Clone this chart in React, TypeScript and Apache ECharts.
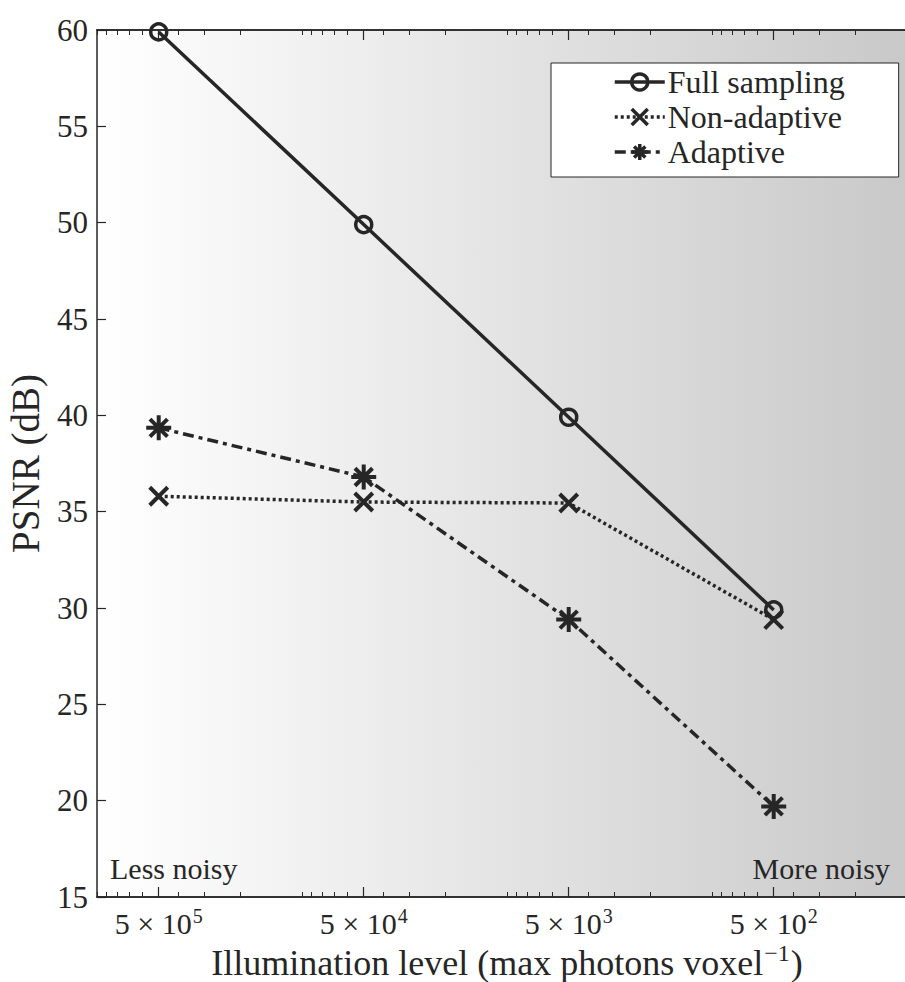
import React, { useEffect, useRef } from "react";
import * as echarts from "echarts";

const illumination = [5e5, 5e4, 5e3, 5e2];
const fullSampling = [59.9, 49.9, 39.9, 29.9];
const nonAdaptive = [35.8, 35.5, 35.45, 29.4];
const adaptive = [39.35, 36.8, 29.4, 19.7];
const majorTicks = [5e5, 5e4, 5e3, 5e2];
const seriesNames = ["Full sampling", "Non-adaptive", "Adaptive"];

const FONT = "Liberation Serif";
const INK = "#262626";

const minorTicks: number[] = [];
for (let k = 2; k <= 5; k++) {
  for (let n = 1; n <= 9; n++) minorTicks.push(n * Math.pow(10, k));
}
minorTicks.push(1e6);

const X_SYMBOL = "path://M0,0L10,10M10,0L0,10";
const STAR_SYMBOL = "path://M5,0L5,10M0,5L10,5M1.5,1.5L8.5,8.5M8.5,1.5L1.5,8.5";

export default function App() {
  const ref = useRef<HTMLDivElement>(null);
  useEffect(() => {
    if (!ref.current) return;
    const chart = echarts.init(ref.current, null, { renderer: "svg" });
    const pairs = (ys: number[]) => illumination.map((x, i) => [x, ys[i]]);
    const baseX = {
      type: "log" as const,
      logBase: 10,
      min: 100,
      max: 1e6,
      inverse: true,
      splitLine: { show: false },
      axisLine: { show: true, lineStyle: { color: INK, width: 1.5 } },
    };
    const supLabel = (v: number) => {
      const e = Math.round(Math.log10(v / 5));
      return `{b|5 × 10}{s|${e}}`;
    };
    chart.setOption({
      animation: false,
      backgroundColor: "#ffffff",
      grid: {
        left: 97,
        top: 30,
        width: 820,
        height: 867,
        outerBoundsMode: "none",
        containLabel: false,
        show: true,
        borderWidth: 0,
        backgroundColor: new echarts.graphic.LinearGradient(0, 0, 1, 0, [
          { offset: 0, color: "#ffffff" },
          { offset: 1, color: "#c8c8c8" },
        ]),
      },
      xAxis: [
        {
          ...baseX,
          position: "bottom",
          axisTick: { show: true, inside: true, length: 5, customValues: minorTicks, lineStyle: { color: INK, width: 1 } },
          axisLabel: { show: false },
        },
        {
          ...baseX,
          position: "bottom",
          axisTick: { show: true, inside: true, length: 10, customValues: majorTicks, lineStyle: { color: INK, width: 1.2 } },
          axisLabel: {
            show: true,
            customValues: majorTicks,
            margin: 9,
            formatter: supLabel,
            rich: {
              b: { fontFamily: FONT, fontSize: 30, color: INK, lineHeight: 32, verticalAlign: "bottom" },
              s: { fontFamily: FONT, fontSize: 20, color: INK, lineHeight: 20, verticalAlign: "top", padding: [0, 0, 0, 1] },
            },
          },
          name: "{n|Illumination level (max photons voxel}{s|−1}{n|)}",
          nameLocation: "middle",
          nameGap: 44,
          nameMoveOverlap: false,
          nameTextStyle: {
            fontFamily: FONT,
            fontSize: 36,
            color: INK,
            rich: {
              n: { fontFamily: FONT, fontSize: 36, color: INK, lineHeight: 40, verticalAlign: "bottom" },
              s: { fontFamily: FONT, fontSize: 24, color: INK, lineHeight: 24, verticalAlign: "top", padding: [0, 1, 0, 1] },
            },
          },
        },
        {
          ...baseX,
          position: "top",
          axisTick: { show: true, inside: true, length: 5, customValues: minorTicks, lineStyle: { color: INK, width: 1 } },
          axisLabel: { show: false },
        },
        {
          ...baseX,
          position: "top",
          axisTick: { show: true, inside: true, length: 10, customValues: majorTicks, lineStyle: { color: INK, width: 1.2 } },
          axisLabel: { show: false },
        },
      ],
      yAxis: {
        type: "value",
        min: 15,
        max: 60,
        interval: 5,
        splitLine: { show: false },
        axisLine: { show: true, lineStyle: { color: INK, width: 1.5 } },
        axisTick: { show: true, inside: true, length: 9, lineStyle: { color: INK, width: 1.2 } },
        axisLabel: { fontFamily: FONT, fontSize: 31, color: INK, margin: 9 },
        name: "PSNR (dB)",
        nameLocation: "middle",
        nameGap: 52,
        nameTextStyle: { fontFamily: FONT, fontSize: 39, color: INK },
      },
      legend: {
        left: 551,
        top: 63,
        orient: "vertical",
        data: seriesNames,
        backgroundColor: "#ffffff",
        borderColor: INK,
        borderWidth: 1,
        borderRadius: 0,
        padding: [3, 54, 9, 62],
        itemGap: 3,
        itemWidth: 50,
        itemHeight: 20,
        lineStyle: { width: 3.5 },
        itemStyle: { borderWidth: 3.5 },
        textStyle: { fontFamily: FONT, fontSize: 32, color: INK, lineHeight: 28, padding: [0, 0, 0, -2] },
      },
      graphic: [
        { type: "text", left: 110, top: 853, style: { text: "Less noisy", font: `30px ${FONT}`, fill: INK } },
        { type: "text", right: 15, top: 853, style: { text: "More noisy", font: `30px ${FONT}`, fill: INK } },
      ],
      series: [
        {
          name: seriesNames[0],
          type: "line",
          xAxisIndex: 1,
          data: pairs(fullSampling),
          symbol: "circle",
          symbolSize: 16,
          lineStyle: { color: INK, width: 3.5, type: "solid" },
          itemStyle: { color: "rgba(0,0,0,0)", borderColor: INK, borderWidth: 3.5 },
          z: 4,
        },
        {
          name: seriesNames[1],
          type: "line",
          xAxisIndex: 1,
          data: pairs(nonAdaptive),
          symbol: X_SYMBOL,
          symbolSize: 18,
          lineStyle: { color: INK, width: 3.5, type: [3, 3] },
          itemStyle: { color: "none", borderColor: INK, borderWidth: 4 },
          z: 3,
        },
        {
          name: seriesNames[2],
          type: "line",
          xAxisIndex: 1,
          data: pairs(adaptive),
          symbol: STAR_SYMBOL,
          symbolSize: 25,
          lineStyle: { color: INK, width: 3.5, type: [11, 5, 4, 5] },
          itemStyle: { color: "none", borderColor: INK, borderWidth: 4 },
          z: 3,
        },
      ],
    });
    return () => chart.dispose();
  }, []);
  return <div ref={ref} style={{ position: "fixed", left: 0, top: 0, width: 905, height: 982 }} />;
}
